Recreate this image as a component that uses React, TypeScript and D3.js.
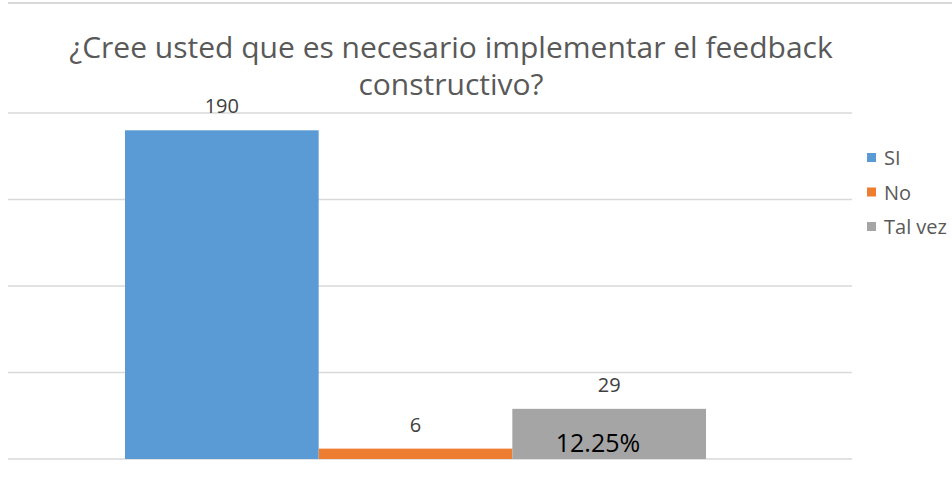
import React, { useEffect, useRef } from 'react';
import * as d3 from 'd3';

// Chart data
const series = ['SI', 'No', 'Tal vez'];
const values = [190, 6, 29];
const colors = ['#5b9bd5', '#ed7d31', '#a5a5a5'];
const yTicks = [0, 50, 100, 150, 200];
const titleLines = ['¿Cree usted que es necesario implementar el feedback', 'constructivo?'];
const overlayLabel = '12.25%';

const W = 952;
const H = 481;
const FONT = "'Open Sans', 'Noto Sans', sans-serif";

const App = () => {
    const ref = useRef<SVGSVGElement>(null);

    useEffect(() => {
        const svg = d3.select(ref.current);
        svg.selectAll('*').remove();

        const plot = { left: 8, right: 852, top: 113, bottom: 459 };

        // Scales
        const y = d3.scaleLinear().domain([0, 200]).range([plot.bottom, plot.top]);
        const x = d3.scaleBand().domain(series).range([125, 706]).padding(0);
        const color = d3.scaleOrdinal<string, string>().domain(series).range(colors);

        // Top border line (cropped frame)
        svg.append('line')
            .attr('x1', 8).attr('x2', W)
            .attr('y1', 3).attr('y2', 3)
            .attr('stroke', '#d9d9d9')
            .attr('stroke-width', 2);

        // Gridlines
        svg.append('g')
            .selectAll('line')
            .data(yTicks)
            .join('line')
            .attr('x1', plot.left).attr('x2', plot.right)
            .attr('y1', d => y(d)).attr('y2', d => y(d))
            .attr('stroke', '#d9d9d9')
            .attr('stroke-width', 1.5);

        // Title
        svg.append('text')
            .attr('x', 451)
            .attr('y', 58)
            .attr('text-anchor', 'middle')
            .attr('font-family', FONT)
            .attr('font-size', 30)
            .attr('fill', '#595959')
            .selectAll('tspan')
            .data(titleLines)
            .join('tspan')
            .attr('x', 451)
            .attr('dy', (d, i) => (i === 0 ? 0 : 37))
            .text(d => d);

        // Bars
        svg.append('g')
            .selectAll('rect')
            .data(values)
            .join('rect')
            .attr('x', (d, i) => x(series[i])!)
            .attr('y', d => y(d))
            .attr('width', x.bandwidth())
            .attr('height', d => plot.bottom - y(d))
            .attr('fill', (d, i) => color(series[i]));

        // Value labels
        svg.append('g')
            .selectAll('text')
            .data(values)
            .join('text')
            .attr('x', (d, i) => x(series[i])! + x.bandwidth() / 2)
            .attr('y', d => y(d) - 17)
            .attr('text-anchor', 'middle')
            .attr('font-family', FONT)
            .attr('font-size', 20)
            .attr('fill', '#404040')
            .text(d => d);

        // Percentage text box on the last bar
        svg.append('text')
            .attr('x', 598)
            .attr('y', 452)
            .attr('text-anchor', 'middle')
            .attr('font-family', FONT)
            .attr('font-size', 25)
            .attr('fill', '#000')
            .text(overlayLabel);

        // Legend
        const legend = svg.append('g')
            .selectAll('g')
            .data(series)
            .join('g')
            .attr('transform', (d, i) => `translate(867, ${158 + i * 34.5})`);

        legend.append('rect')
            .attr('x', 0).attr('y', -5)
            .attr('width', 9).attr('height', 9)
            .attr('fill', d => color(d));

        legend.append('text')
            .attr('x', 17)
            .attr('y', 0)
            .attr('dy', '0.35em')
            .attr('font-family', FONT)
            .attr('font-size', 20)
            .attr('fill', '#595959')
            .text(d => d);
    }, []);

    return (
        <svg
            ref={ref}
            width={W}
            height={H}
            style={{ position: 'absolute', left: 0, top: 0, background: '#fff' }}
        />
    );
};

export default App;
